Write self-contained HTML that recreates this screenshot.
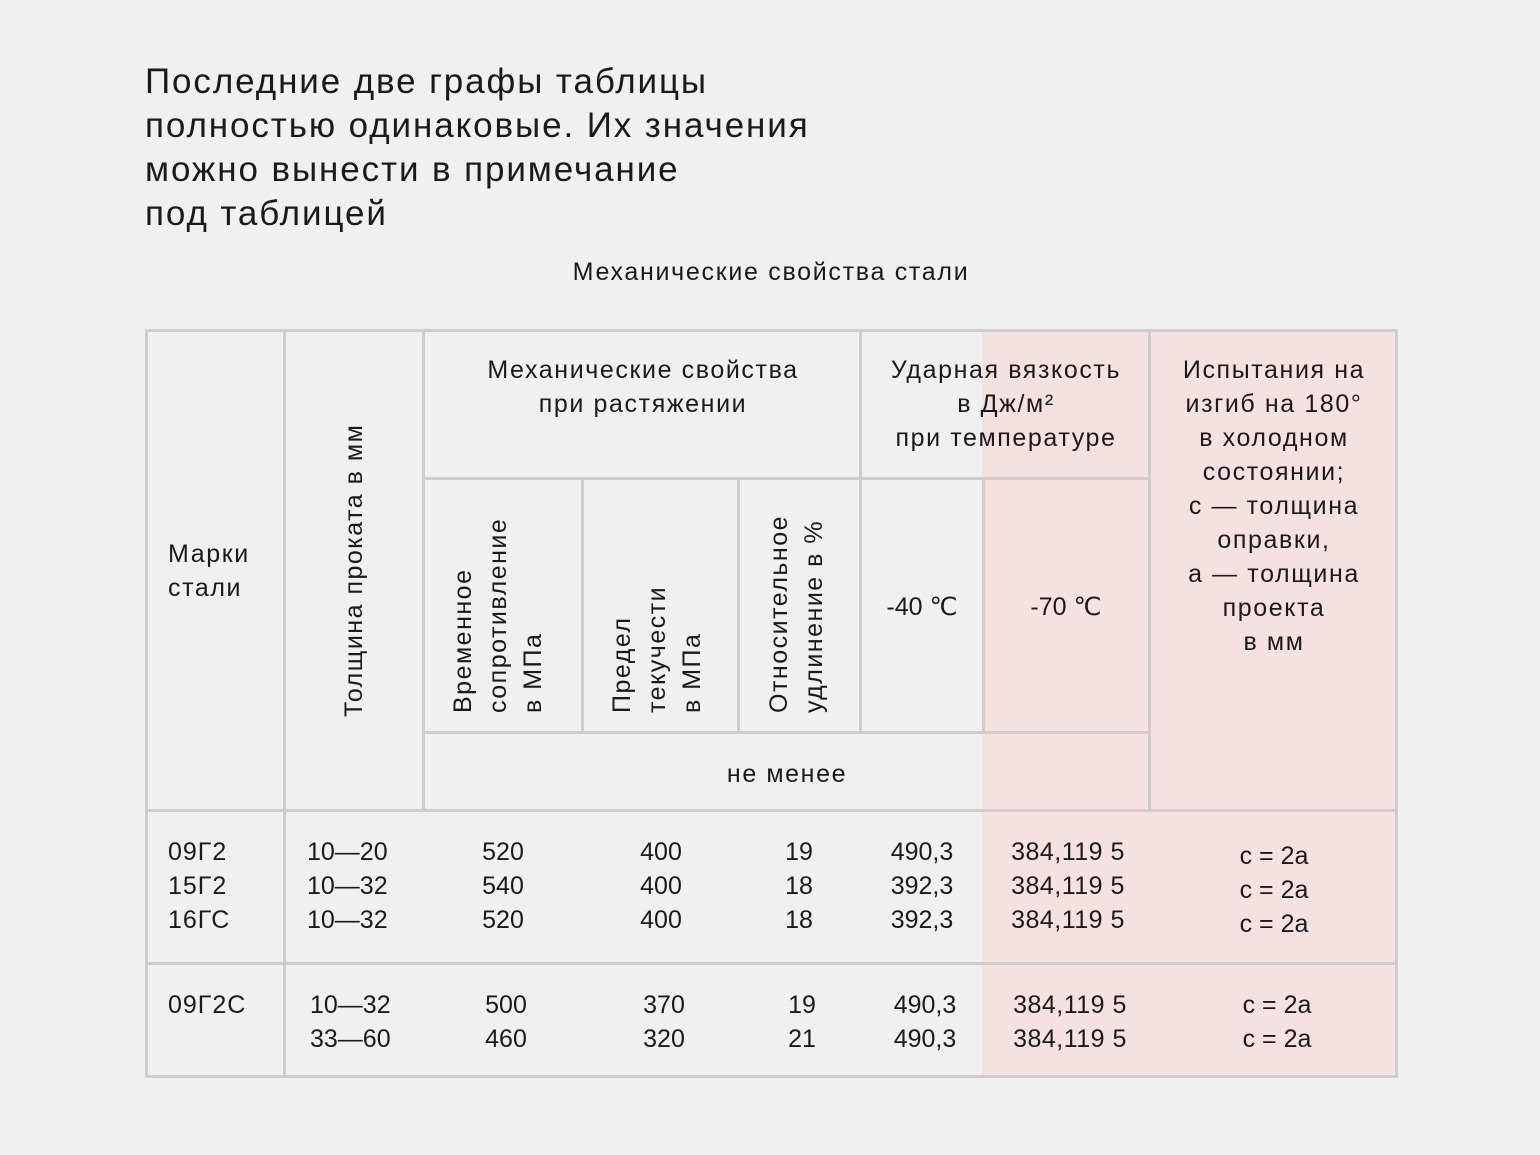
<!DOCTYPE html>
<html><head><meta charset="utf-8"><style>
body{margin:0;width:1540px;height:1155px;background:#f0f0f0;position:relative;overflow:hidden;font-family:"Liberation Sans","DejaVu Sans",sans-serif;color:#1a1a1a}
.a{position:absolute}
.h{position:absolute;background:#cdcdcd;height:3px}
.v{position:absolute;background:#cdcdcd;width:3px}
.t{position:absolute;font-size:25px;line-height:34px;white-space:nowrap}
.w{letter-spacing:1.6px}
.c{text-align:center;transform:translateX(-50%)}
.r{position:absolute;writing-mode:vertical-rl;transform:rotate(180deg);font-size:25px;line-height:35px;white-space:nowrap;text-align:left;letter-spacing:1.5px}
</style></head><body>
<div class="t" style="left:145px;top:60px;font-size:35px;line-height:44px;letter-spacing:1.9px">Последние две графы таблицы<br>полностью одинаковые. Их значения<br>можно вынести в примечание<br>под таблицей</div>
<div class="t c" style="left:771px;top:255px;font-size:25px;letter-spacing:1.7px">Механические свойства стали</div>
<div class="a" style="left:982px;top:331px;width:415px;height:745px;background:#f5e1e1"></div>
<div class="h" style="left:145px;top:329px;width:1253px"></div>
<div class="h" style="left:423px;top:477px;width:727px"></div>
<div class="h" style="left:423px;top:731px;width:727px"></div>
<div class="h" style="left:145px;top:809px;width:1253px"></div>
<div class="h" style="left:145px;top:962px;width:1253px"></div>
<div class="h" style="left:145px;top:1075px;width:1253px"></div>
<div class="v" style="left:145px;top:329px;height:749px"></div>
<div class="v" style="left:283px;top:329px;height:749px"></div>
<div class="v" style="left:422px;top:329px;height:483px"></div>
<div class="v" style="left:581px;top:477px;height:257px"></div>
<div class="v" style="left:737px;top:477px;height:257px"></div>
<div class="v" style="left:859px;top:329px;height:405px"></div>
<div class="v" style="left:982px;top:477px;height:257px"></div>
<div class="v" style="left:1148px;top:329px;height:483px"></div>
<div class="v" style="left:1395px;top:329px;height:749px"></div>

<div class="t w" style="left:168px;top:537px">Марки<br>стали</div>
<div class="r" style="left:337px;top:400px;height:317px">Толщина проката в мм</div>
<div class="t c w" style="left:643px;top:353px">Механические свойства<br>при растяжении</div>
<div class="t c w" style="left:1006px;top:353px">Ударная вязкость<br>в Дж/м²<br>при температуре</div>
<div class="t c w" style="left:1274px;top:353px">Испытания на<br>изгиб на 180°<br>в холодном<br>состоянии;<br>с — толщина<br>оправки,<br>а — толщина<br>проекта<br>в мм</div>
<div class="r" style="left:446px;top:485px;height:228px">Временное<br>сопротивление<br>в МПа</div>
<div class="r" style="left:605px;top:485px;height:228px">Предел<br>текучести<br>в МПа</div>
<div class="r" style="left:762px;top:485px;height:228px">Относительное<br>удлинение в %</div>
<div class="t c" style="left:922px;top:590px">-40 ℃</div>
<div class="t c" style="left:1066px;top:590px">-70 ℃</div>
<div class="t c w" style="left:787px;top:757px">не менее</div>

<div class="t" style="left:168px;top:835px;letter-spacing:1px">09Г2<br>15Г2<br>16ГС</div>
<div class="t" style="left:307px;top:835px">10—20<br>10—32<br>10—32</div>
<div class="t c" style="left:503px;top:835px">520<br>540<br>520</div>
<div class="t c" style="left:661px;top:835px">400<br>400<br>400</div>
<div class="t c" style="left:799px;top:835px">19<br>18<br>18</div>
<div class="t c" style="left:922px;top:835px">490,3<br>392,3<br>392,3</div>
<div class="t c" style="left:1068px;top:835px;letter-spacing:0.5px">384,119 5<br>384,119 5<br>384,119 5</div>
<div class="t c" style="left:1274px;top:839px">с = 2а<br>с = 2а<br>с = 2а</div>

<div class="t" style="left:168px;top:988px;letter-spacing:1px">09Г2С</div>
<div class="t" style="left:310px;top:988px">10—32<br>33—60</div>
<div class="t c" style="left:506px;top:988px">500<br>460</div>
<div class="t c" style="left:664px;top:988px">370<br>320</div>
<div class="t c" style="left:802px;top:988px">19<br>21</div>
<div class="t c" style="left:925px;top:988px">490,3<br>490,3</div>
<div class="t c" style="left:1070px;top:988px;letter-spacing:0.5px">384,119 5<br>384,119 5</div>
<div class="t c" style="left:1277px;top:988px">с = 2а<br>с = 2а</div>
</body></html>
